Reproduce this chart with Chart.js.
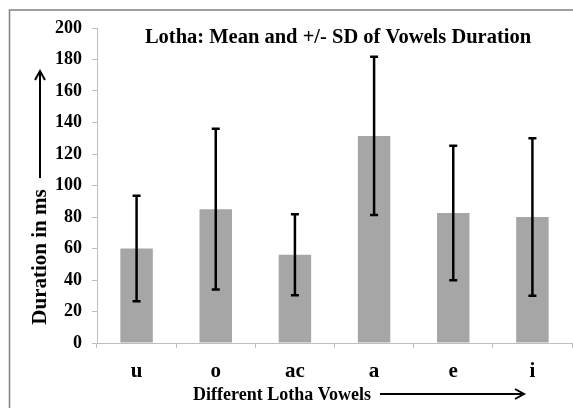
<!DOCTYPE html>
<html>
<head>
<meta charset="utf-8">
<script src="https://cdn.jsdelivr.net/npm/chart.js@4"></script>
<style>
  html, body { margin: 0; padding: 0; background: #fff; }
  #wrap { width: 573px; height: 408px; }
</style>
</head>
<body>
<div id="wrap"><canvas id="chart" width="573" height="408"></canvas></div>
<script>
const vowels = ['u', 'o', 'ac', 'a', 'e', 'i'];
const meanDuration = [60, 85, 56, 131.5, 82.5, 80];
const sdDuration = [33.5, 51, 25.7, 50.3, 42.7, 50];

const FONT = '"Liberation Serif", "Times New Roman", serif';

// frame, titles and arrows drawn around the plot
const decorations = {
  id: 'decorations',
  beforeDraw(chart) {
    const ctx = chart.ctx;
    ctx.save();
    ctx.strokeStyle = '#808080';
    ctx.lineWidth = 1.5;
    ctx.beginPath();
    ctx.moveTo(573, 10);
    ctx.lineTo(9.5, 10);
    ctx.lineTo(9.5, 408);
    ctx.stroke();
    ctx.restore();
  },
  afterDraw(chart) {
    const ctx = chart.ctx;
    ctx.save();
    ctx.fillStyle = '#000';
    ctx.strokeStyle = '#000';

    // chart title inside the plot
    ctx.font = 'bold 20.5px ' + FONT;
    ctx.textAlign = 'center';
    ctx.textBaseline = 'middle';
    ctx.fillText('Lotha: Mean and +/- SD of Vowels Duration', 338, 38);

    // y title + arrow
    ctx.save();
    ctx.translate(41, 257);
    ctx.rotate(-Math.PI / 2);
    ctx.font = 'bold 21px ' + FONT;
    ctx.fillText('Duration in ms', 0, 0);
    ctx.restore();
    ctx.lineWidth = 2;
    ctx.beginPath();
    ctx.moveTo(40, 178);
    ctx.lineTo(40, 71);
    ctx.moveTo(35, 80);
    ctx.lineTo(40, 71);
    ctx.lineTo(45, 80);
    ctx.stroke();

    // x title + arrow
    ctx.font = 'bold 18px ' + FONT;
    ctx.textAlign = 'center';
    ctx.fillText('Different Lotha Vowels', 282, 395);
    ctx.beginPath();
    ctx.moveTo(380, 394);
    ctx.lineTo(524, 394);
    ctx.moveTo(515, 389);
    ctx.lineTo(524, 394);
    ctx.lineTo(515, 399);
    ctx.stroke();
    ctx.restore();
  }
};

// +/- SD whiskers
const errorBars = {
  id: 'errorBars',
  afterDatasetsDraw(chart) {
    const ctx = chart.ctx;
    const y = chart.scales.y;
    const meta = chart.getDatasetMeta(0);
    ctx.save();
    ctx.strokeStyle = '#000';
    ctx.lineWidth = 2.5;
    meta.data.forEach((bar, i) => {
      const top = y.getPixelForValue(meanDuration[i] + sdDuration[i]);
      const bot = y.getPixelForValue(meanDuration[i] - sdDuration[i]);
      ctx.beginPath();
      ctx.moveTo(bar.x, top);
      ctx.lineTo(bar.x, bot);
      ctx.moveTo(bar.x - 4, top);
      ctx.lineTo(bar.x + 4, top);
      ctx.moveTo(bar.x - 4, bot);
      ctx.lineTo(bar.x + 4, bot);
      ctx.stroke();
    });
    ctx.restore();
  }
};

new Chart(document.getElementById('chart'), {
  type: 'bar',
  data: {
    labels: vowels,
    datasets: [{
      label: 'Mean',
      data: meanDuration,
      backgroundColor: '#a6a6a6',
      borderWidth: 0,
      barPercentage: 1,
      categoryPercentage: 0.41
    }]
  },
  options: {
    responsive: false,
    animation: false,
    layout: { padding: { top: 28, right: 1, left: 0, bottom: 0 } },
    plugins: {
      legend: { display: false },
      tooltip: { enabled: false }
    },
    scales: {
      x: {
        afterFit(scale) { scale.height = 65; },
        grid: { drawOnChartArea: false, color: '#bfbfbf', tickLength: 5 },
        border: { color: '#bfbfbf' },
        ticks: { color: '#000', padding: 11, font: { family: FONT, size: 21, weight: 'bold' } }
      },
      y: {
        min: 0,
        max: 200,
        afterFit(scale) { scale.width = 97; },
        grid: { drawOnChartArea: false, color: '#bfbfbf', tickLength: 5 },
        border: { color: '#bfbfbf' },
        ticks: { stepSize: 20, color: '#000', padding: 10, font: { family: FONT, size: 18, weight: 'bold' } }
      }
    }
  },
  plugins: [decorations, errorBars]
});
</script>
</body>
</html>
